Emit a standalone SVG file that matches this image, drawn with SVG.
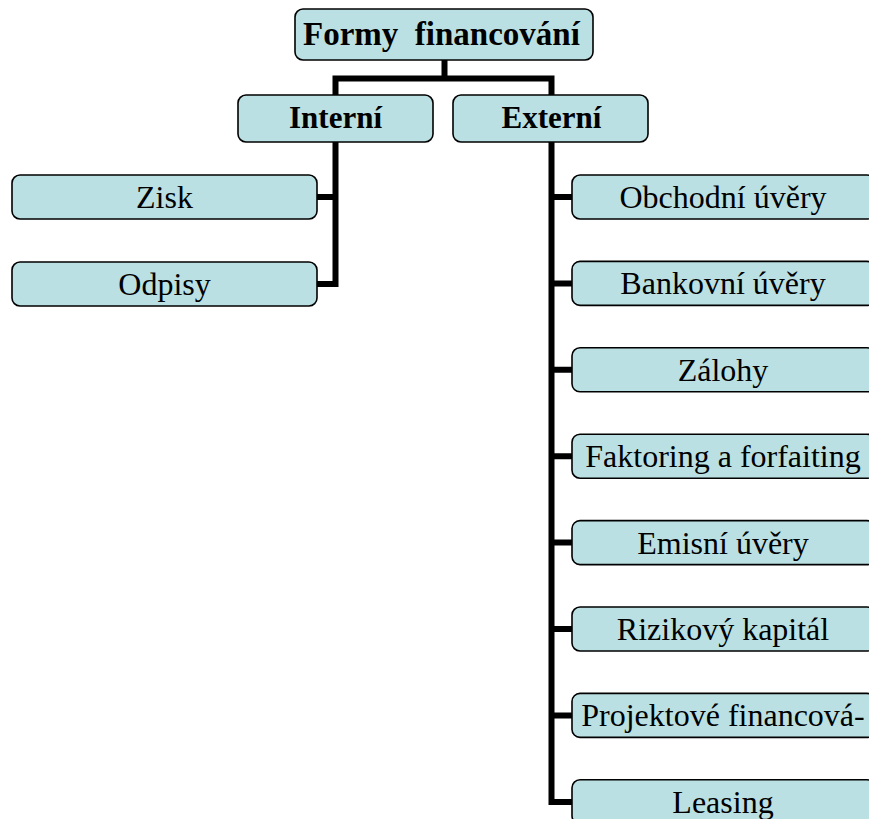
<svg xmlns="http://www.w3.org/2000/svg" width="869" height="819" viewBox="0 0 869 819" font-family="Liberation Serif, Times New Roman, serif">
<style>
.box{fill:#BBE0E3;stroke:#000;stroke-width:1.6}
.t{font-size:32px;fill:#000;text-anchor:middle}
.b{font-weight:bold}
.c{fill:none;stroke:#000;stroke-width:6;stroke-linejoin:miter}
</style>
<rect width="869" height="819" fill="#fff"/>
<g id="connectors">
<path class="c" d="M444.5 60 V78.5 M335.5 95 V78.5 H551.5 V95"/>
<path class="c" d="M335.5 142 V284 H317 M335.5 197 H317"/>
<path class="c" d="M551.5 142 V802 H572 M551.5 197 H572 M551.5 283.4 H572 M551.5 369.8 H572 M551.5 456.2 H572 M551.5 542.6 H572 M551.5 629 H572 M551.5 715.4 H572"/>
</g>
<g id="root"><rect class="box" x="295" y="9" width="298" height="51" rx="8"/><text class="t b" x="303" y="45" style="font-size:33px;text-anchor:start">Formy&#160; financování</text></g>
<g id="interni"><rect class="box" x="238" y="95" width="195" height="47" rx="8"/><text class="t b" x="335.5" y="128" style="font-size:31px">Interní</text></g>
<g id="externi"><rect class="box" x="453" y="95" width="195" height="47" rx="8"/><text class="t b" x="551.5" y="128" style="font-size:31px">Externí</text></g>
<g id="zisk"><rect class="box" x="12" y="175" width="305" height="44" rx="8"/><text class="t" x="164.5" y="208">Zisk</text></g>
<g id="odpisy"><rect class="box" x="12" y="262" width="305" height="44" rx="8"/><text class="t" x="164.5" y="295">Odpisy</text></g>
<g id="obchodni"><rect class="box" x="572" y="175" width="303" height="44" rx="8"/><text class="t" x="723" y="208">Obchodní úvěry</text></g>
<g id="bankovni"><rect class="box" x="572" y="261.4" width="303" height="44" rx="8"/><text class="t" x="723" y="294.4">Bankovní úvěry</text></g>
<g id="zalohy"><rect class="box" x="572" y="347.8" width="303" height="44" rx="8"/><text class="t" x="723" y="380.8">Zálohy</text></g>
<g id="faktoring"><rect class="box" x="572" y="434.2" width="303" height="44" rx="8"/><text class="t" x="723" y="467.2">Faktoring a forfaiting</text></g>
<g id="emisni"><rect class="box" x="572" y="520.6" width="303" height="44" rx="8"/><text class="t" x="723" y="553.6">Emisní úvěry</text></g>
<g id="rizikovy"><rect class="box" x="572" y="607" width="303" height="44" rx="8"/><text class="t" x="723" y="640">Rizikový kapitál</text></g>
<g id="projektove"><rect class="box" x="572" y="693.4" width="303" height="44" rx="8"/><text class="t" x="723" y="726.4">Projektové financová-</text></g>
<g id="leasing"><rect class="box" x="572" y="779.8" width="303" height="44" rx="8"/><text class="t" x="723" y="812.8">Leasing</text></g>
</svg>
